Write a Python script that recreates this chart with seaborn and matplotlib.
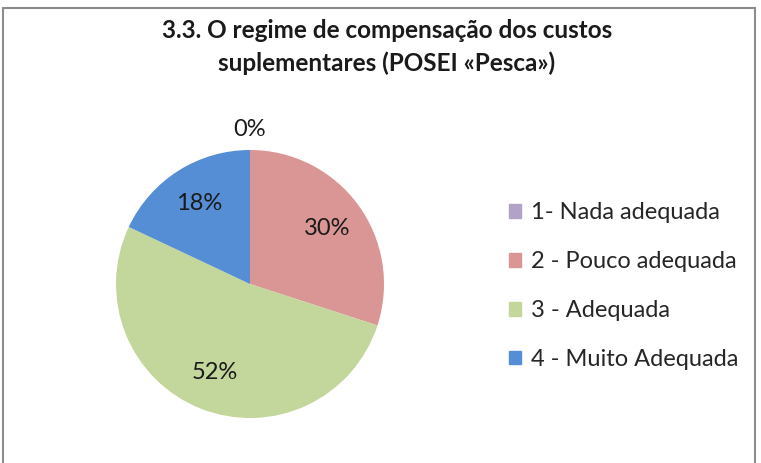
import numpy as np
import matplotlib
matplotlib.use("Agg")
import matplotlib.pyplot as plt
import matplotlib.patches as mpatches
import seaborn as sns

# dados do gráfico
categorias = ['1- Nada adequada', '2 - Pouco adequada', '3 - Adequada', '4 - Muito Adequada']
valores = [0, 30, 52, 18]
cores = ['#B3A2C7', '#D99694', '#C3D69B', '#558ED5']
titulo = '3.3. O regime de compensação dos custos\nsuplementares (POSEI «Pesca»)'

sns.set_theme(style='white')
plt.rcParams['font.family'] = ['Lato', 'DejaVu Sans']

W, H = 761, 463
fig = plt.figure(figsize=(W / 100, H / 100), dpi=100)
fig.patch.set_facecolor('white')

# moldura cinzenta
fig.add_artist(mpatches.Rectangle((3 / W, -0.05), (755 - 3) / W, 1.05 - 8 / H,
                                  transform=fig.transFigure, fill=False,
                                  edgecolor='#8C8C8C', linewidth=1.5))

fig.text(387 / W, 1 - 47 / H, titulo, ha='center', va='center',
         fontsize=17.5, fontweight='bold', color='#1a1a1a', linespacing=1.45)

cx, cy, r = 250, 284, 134
ax = fig.add_axes([(cx - r) / W, (H - cy - r) / H, 2 * r / W, 2 * r / H])
palette = sns.color_palette(cores)
wedges, textos, pcts = ax.pie(valores, colors=palette, startangle=90, counterclock=False,
                              autopct='%1.0f%%', pctdistance=0.71,
                              textprops={'fontsize': 17, 'color': '#1a1a1a'},
                              wedgeprops={'linewidth': 0})
ax.set_xlim(-1, 1)
ax.set_ylim(-1, 1)
ax.set_aspect('auto')

# fatia vazia: rótulo fora do círculo
for w, t, v in zip(wedges, pcts, valores):
    if v == 0:
        ang = np.deg2rad((w.theta1 + w.theta2) / 2)
        t.set_position((1.15 * np.cos(ang), 1.15 * np.sin(ang)))

handles = [mpatches.Patch(color=c, label=l) for c, l in zip(palette, categorias)]
fig.legend(handles=handles, loc='upper left', bbox_to_anchor=(500 / W, 1 - 193 / H),
           frameon=False, fontsize=17, handlelength=0.5, handleheight=0.5,
           handletextpad=0.4, labelspacing=1.18, borderaxespad=0)

fig.savefig('out.png', dpi=100)
